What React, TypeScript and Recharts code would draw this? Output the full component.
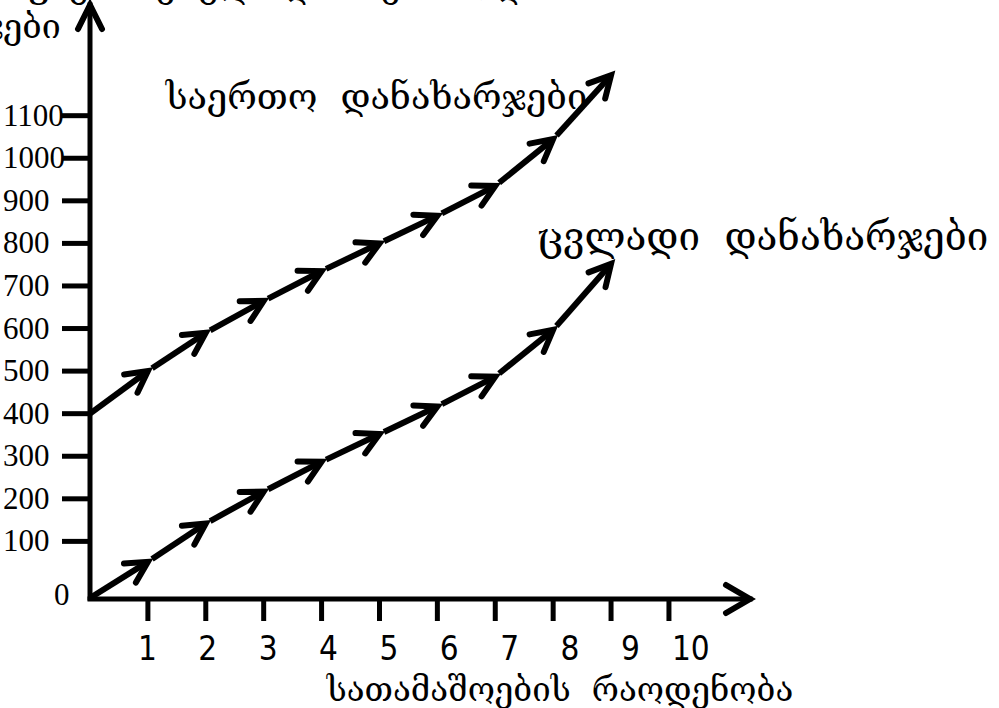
import { LineChart, Line, XAxis, YAxis } from "recharts";

// quantity of toys produced
const QTY = [0, 1, 2, 3, 4, 5, 6, 7, 8, 9];
// total costs (read against the 100..1100 ticks)
const TOTAL_COST = [400, 500, 590, 665, 735, 800, 865, 935, 1045, 1195];
// variable costs (drawn from the origin corner)
const VARIABLE_COST = [0, 85, 175, 250, 320, 385, 450, 520, 630, 785];

const X_TICKS = [1, 2, 3, 4, 5, 6, 7, 8, 9, 10];
const Y_TICKS = [100, 200, 300, 400, 500, 600, 700, 800, 900, 1000, 1100];
const ZERO_TICK = [0];

const TOTAL_LABEL = "საერთო  დანახარჯები";
const VARIABLE_LABEL = "ცვლადი  დანახარჯები";
const X_TITLE = "სათამაშოების  რაოდენობა";
const Y_TITLE = ["ფიქსირებული და საერთო დანახარ", "ჯები"];

const rows = QTY.map((q, i) => ({ q, total: TOTAL_COST[i], variable: VARIABLE_COST[i] }));

const INK = "#000";
const GEO_FONT = "'DejaVu Serif', 'Noto Sans', serif";
const PRE = { whiteSpace: "pre" } as const;

function ArrowSegment(props: any) {
  const { index, points, cx, cy } = props;
  if (!points || index === 0) return <g key={`a-${index}`} />;
  const prev = points[index - 1];
  const dx = cx - prev.x;
  const dy = cy - prev.y;
  const len = Math.hypot(dx, dy) || 1;
  const ux = dx / len;
  const uy = dy / len;
  const gap = index === 1 ? 0 : 5;
  const wing = (sign: number) => {
    const a = (sign * 28 * Math.PI) / 180;
    const bx = -ux;
    const by = -uy;
    return [cx + (bx * Math.cos(a) - by * Math.sin(a)) * 24, cy + (bx * Math.sin(a) + by * Math.cos(a)) * 24];
  };
  const w1 = wing(1);
  const w2 = wing(-1);
  return (
    <g key={`a-${index}`}>
      <line x1={prev.x + ux * gap} y1={prev.y + uy * gap} x2={cx - ux * 2} y2={cy - uy * 2} stroke={INK} strokeWidth={6} />
      <polyline
        points={`${w1[0]},${w1[1]} ${cx},${cy} ${w2[0]},${w2[1]}`}
        fill="none"
        stroke={INK}
        strokeWidth={6}
        strokeLinejoin="miter"
        strokeLinecap="round"
      />
    </g>
  );
}

function XTickMark({ x, y }: any) {
  return <line x1={x} x2={x} y1={y} y2={y + 22} stroke={INK} strokeWidth={5} />;
}

function XTickLabel({ x, y, payload }: any) {
  return (
    <text
      x={x}
      y={y + 62}
      textAnchor="middle"
      fontFamily="'Liberation Sans Narrow', 'DejaVu Sans Condensed', 'Liberation Sans', sans-serif"
      fontSize={33}
      fill={INK}
    >
      {payload.value}
    </text>
  );
}

function YTick({ x, y, payload }: any) {
  return (
    <g>
      <line x1={x - 28} x2={x} y1={y} y2={y} stroke={INK} strokeWidth={5} />
      <text x={x - 87} y={y + 10} textAnchor="start" fontFamily="'Liberation Serif', serif" fontSize={31} fill={INK}>
        {payload.value}
      </text>
    </g>
  );
}

function ZeroTick({ x, y, payload }: any) {
  return (
    <text x={x - 35} y={y + 7} textAnchor="start" fontFamily="'Liberation Serif', serif" fontSize={31} fill={INK}>
      {payload.value}
    </text>
  );
}

function XAxisDecor({ viewBox }: any) {
  const tipX = viewBox.x + viewBox.width;
  const y = viewBox.y;
  return (
    <g>
      <polyline points={`${tipX - 24},${y - 14} ${tipX},${y} ${tipX - 24},${y + 14}`} fill="none" stroke={INK} strokeWidth={6} strokeLinecap="round" />
      <text x={viewBox.x + 470} y={y + 102} textAnchor="middle" fontFamily={GEO_FONT} fontSize={33} fill={INK} style={PRE}>
        {X_TITLE}
      </text>
    </g>
  );
}

function YAxisDecor({ viewBox }: any) {
  const x = viewBox.x + viewBox.width;
  const tipY = viewBox.y;
  return (
    <g>
      <polyline points={`${x - 12},${tipY + 24} ${x},${tipY} ${x + 12},${tipY + 24}`} fill="none" stroke={INK} strokeWidth={6} strokeLinecap="round" />
      <text x={22} y={-3} fontFamily={GEO_FONT} fontSize={34} fill={INK}>
        {Y_TITLE[0]}
      </text>
      <text x={-20} y={38} fontFamily={GEO_FONT} fontSize={34} fill={INK}>
        {Y_TITLE[1]}
      </text>
    </g>
  );
}

const lastIndex = QTY.length - 1;

function TotalLabel({ x, y, index }: any) {
  if (index !== lastIndex) return null;
  return (
    <text x={x - 24} y={y + 34} textAnchor="end" fontFamily={GEO_FONT} fontSize={36} fill={INK} style={PRE}>
      {TOTAL_LABEL}
    </text>
  );
}

function VariableLabel({ x, y, index }: any) {
  if (index !== lastIndex) return null;
  return (
    <text x={x - 74} y={y - 14} textAnchor="start" fontFamily={GEO_FONT} fontSize={38.5} fill={INK} style={PRE}>
      {VARIABLE_LABEL}
    </text>
  );
}

export default function App() {
  return (
    <>
      <style>{"body{margin:0;background:#fff}"}</style>
      <LineChart width={999} height={708} data={rows} margin={{ top: 5, right: 249, bottom: 108, left: 88 }}>
        <XAxis
          xAxisId="main"
          dataKey="q"
          type="number"
          domain={[0, 11.4]}
          ticks={X_TICKS}
          height={1}
          tickSize={0}
          tickMargin={0}
          tickLine={false}
          tick={<XTickMark />}
          axisLine={{ stroke: INK, strokeWidth: 5, strokeLinecap: "square" }}
          label={{ content: <XAxisDecor /> } as any}
        />
        <XAxis
          xAxisId="labels"
          dataKey="q"
          type="number"
          domain={[0.05, 10.98]}
          allowDataOverflow
          ticks={X_TICKS}
          height={1}
          tickSize={0}
          tickMargin={0}
          tickLine={false}
          axisLine={false}
          tick={<XTickLabel />}
        />
        <YAxis
          yAxisId="left"
          type="number"
          domain={[-33, 1360]}
          ticks={Y_TICKS}
          width={1}
          tickSize={0}
          tickMargin={0}
          tickLine={false}
          tick={<YTick />}
          axisLine={{ stroke: INK, strokeWidth: 5, strokeLinecap: "square" }}
          label={{ content: <YAxisDecor /> } as any}
        />
        <YAxis
          yAxisId="vc"
          type="number"
          domain={[0, 1393]}
          ticks={ZERO_TICK}
          width={1}
          tickSize={0}
          tickMargin={0}
          tickLine={false}
          axisLine={false}
          tick={<ZeroTick />}
        />
        <Line
          xAxisId="main"
          yAxisId="left"
          dataKey="total"
          stroke="none"
          dot={ArrowSegment}
          activeDot={false}
          label={<TotalLabel />}
          isAnimationActive={false}
        />
        <Line
          xAxisId="main"
          yAxisId="vc"
          dataKey="variable"
          stroke="none"
          dot={ArrowSegment}
          activeDot={false}
          label={<VariableLabel />}
          isAnimationActive={false}
        />
      </LineChart>
    </>
  );
}
